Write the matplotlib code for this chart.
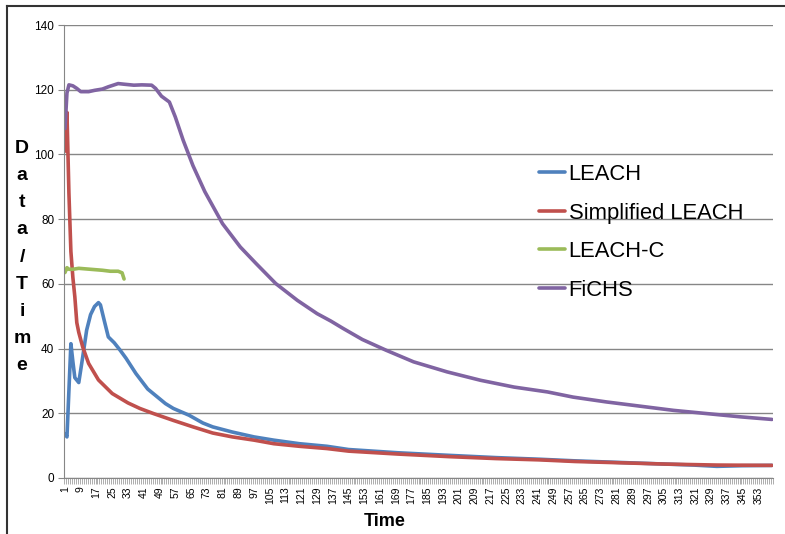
import matplotlib
matplotlib.use("Agg")
import matplotlib.pyplot as plt
from matplotlib.lines import Line2D
import numpy as np

plt.rcParams["font.family"] = ["Liberation Sans", "DejaVu Sans"]

N_CAT = 360
XTICK_POS = list(range(1, 354, 8))
YTICKS = [0, 20, 40, 60, 80, 100, 120, 140]

# values (category index -> Data/Time)
leach_x = [1, 2, 4, 5, 6, 8, 10, 12, 14, 16, 18, 19, 21, 23, 26, 29, 32, 37,
           43, 48, 52, 56, 64, 71, 76, 86, 97, 107, 120, 134, 145, 170, 196,
           220, 242, 260, 283, 306, 320, 332, 345, 360]
leach_y = [13.7, 12.7, 41.5, 36.0, 31.0, 29.5, 37.4, 45.7, 50.5, 53.0, 54.2,
           53.5, 48.5, 43.6, 41.8, 39.5, 37.0, 32.3, 27.5, 25.0, 23.0, 21.5,
           19.4, 17.0, 15.8, 14.2, 12.7, 11.7, 10.6, 9.8, 8.8, 7.8, 7.0, 6.3,
           5.8, 5.3, 4.8, 4.3, 4.0, 3.6, 3.8, 3.9]

simp_x = [1, 2, 3, 4, 5, 6, 7, 8, 10, 13, 18, 25, 33, 39, 46, 56, 66, 76, 86,
          97, 107, 120, 134, 145, 170, 196, 220, 242, 260, 283, 306, 332, 360]
simp_y = [101, 113, 88, 70, 62, 56, 48, 45, 40.5, 35.4, 30.3, 26.1, 23.2,
          21.5, 19.9, 17.8, 15.8, 13.9, 12.7, 11.7, 10.6, 9.8, 9.1, 8.3, 7.4,
          6.6, 6.0, 5.6, 5.1, 4.7, 4.3, 4.0, 3.9]

leachc_x = [1, 2, 3, 5, 8, 12, 16, 20, 24, 28, 30, 31]
leachc_y = [63.5, 65.0, 64.5, 64.5, 64.8, 64.6, 64.4, 64.2, 63.9, 63.9, 63.4,
            61.5]

fichs_x = [1, 2, 3, 5, 7, 9, 13, 16, 20, 23, 28, 31, 36, 40, 45, 47, 50, 54,
           57, 61, 66, 72, 81, 90, 98, 108, 119, 129, 136, 142, 152, 164, 178,
           195, 212, 229, 246, 259, 276, 293, 310, 327, 344, 360]
fichs_y = [108, 119, 121.5, 121.2, 120.4, 119.4, 119.4, 119.8, 120.2, 120.9,
           121.9, 121.7, 121.4, 121.5, 121.4, 120.4, 118.0, 116.2, 111.6,
           104.4, 96.5, 88.5, 78.6, 71.4, 66.3, 60.1, 54.9, 50.8, 48.5, 46.3,
           42.8, 39.5, 35.9, 32.8, 30.2, 28.1, 26.6, 25.0, 23.5, 22.2, 20.9,
           19.9, 18.9, 18.1]

SERIES = [
    ("LEACH", leach_x, leach_y, "#4F81BD"),
    ("Simplified LEACH", simp_x, simp_y, "#C0504D"),
    ("LEACH-C", leachc_x, leachc_y, "#9BBB59"),
    ("FiCHS", fichs_x, fichs_y, "#8064A2"),
]

fig = plt.figure(figsize=(7.85, 5.34), dpi=100)
ax = fig.add_axes([64 / 785, 1 - 478 / 534, (773 - 64) / 785, (478 - 25) / 534])

for name, xs, ys, col in SERIES:
    ax.plot(xs, ys, color=col, lw=2.6, label=name,
            solid_capstyle="round", solid_joinstyle="round")

ax.set_xlim(0.5, N_CAT + 0.5)
ax.set_ylim(0, 140)
ax.set_yticks(YTICKS)
ax.set_xticks(XTICK_POS)
ax.set_xticklabels([str(v) for v in XTICK_POS], rotation=90, fontsize=7.5)
ax.set_xticks(np.arange(0.5, N_CAT + 1, 1), minor=True)
ax.tick_params(axis="x", which="major", length=0, pad=6)
ax.tick_params(axis="x", which="minor", length=4, width=0.6, color="#a0a0a0")
ax.tick_params(axis="y", length=4, color="#868686", labelsize=8.5, pad=3)
ax.grid(axis="y", color="#868686", lw=1)
ax.set_axisbelow(True)
for s in ("top", "right"):
    ax.spines[s].set_visible(False)
for s in ("left", "bottom"):
    ax.spines[s].set_color("#868686")

# stacked y label, as in the original
fig.text(22 / 785, 1 - 257 / 534, "D\na\nt\na\n/\nT\ni\nm\ne", ha="center",
         va="center", fontsize=14, fontweight="bold", linespacing=1.77)
fig.text(385 / 785, 1 - 522 / 534, "Time", ha="center", va="center",
         fontsize=13, fontweight="bold")

ax.legend(loc="upper left", bbox_to_anchor=(539 / 785, 1 - 164 / 534),
          bbox_transform=fig.transFigure, frameon=False, fontsize=15.8,
          handlelength=1.2, handletextpad=0.15, labelspacing=0.8,
          borderpad=0, borderaxespad=0)

# outer chart border (left and top edges visible)
fig.add_artist(Line2D([7 / 785, 7 / 785], [0, 1 - 6 / 534], color="#333333",
                      lw=1.5, transform=fig.transFigure))
fig.add_artist(Line2D([7 / 785, 1], [1 - 6 / 534, 1 - 6 / 534], color="#333333",
                      lw=1.5, transform=fig.transFigure))

fig.savefig("out.png", dpi=100)
